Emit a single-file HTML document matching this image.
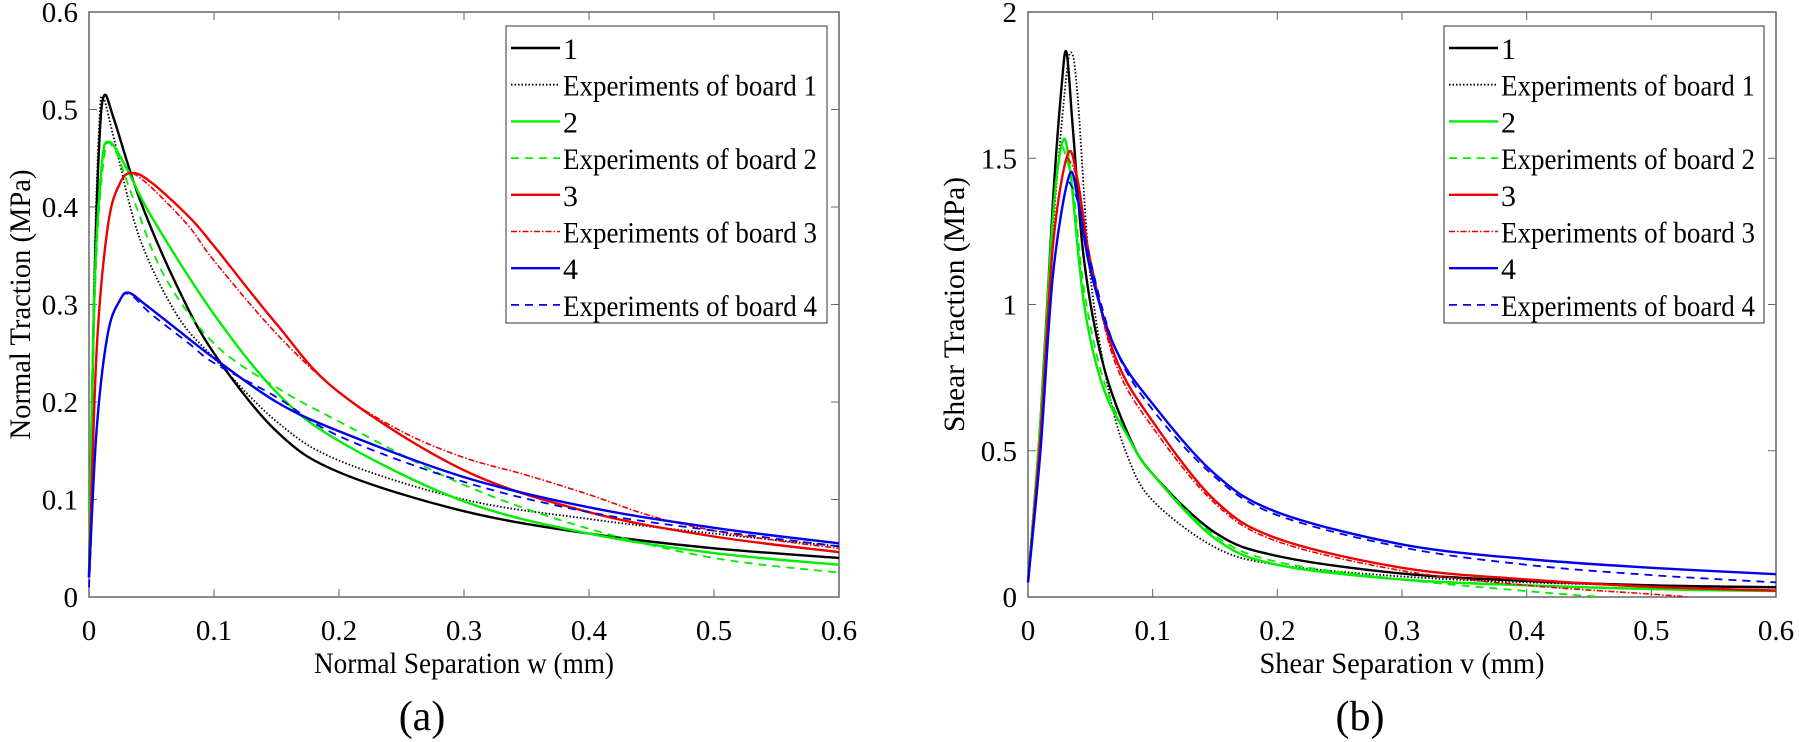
<!DOCTYPE html>
<html><head><meta charset="utf-8">
<style>
body{margin:0;background:#fff;}
svg{display:block;font-family:"Liberation Serif",serif;}
</style></head><body>
<svg id="s" width="1799" height="742" viewBox="0 0 1799 742" xmlns="http://www.w3.org/2000/svg">
</svg>
<script>
const S=document.getElementById('s');let h='';
function cr(pts){
 let d='M'+pts[0][0].toFixed(1)+','+pts[0][1].toFixed(1);
 for(let i=0;i<pts.length-1;i++){const p0=pts[Math.max(0,i-1)],p1=pts[i],p2=pts[i+1],p3=pts[Math.min(pts.length-1,i+2)];
  const c1=[p1[0]+(p2[0]-p0[0])/6,p1[1]+(p2[1]-p0[1])/6],c2=[p2[0]-(p3[0]-p1[0])/6,p2[1]-(p3[1]-p1[1])/6];
  d+=`C${c1[0].toFixed(1)},${c1[1].toFixed(1)} ${c2[0].toFixed(1)},${c2[1].toFixed(1)} ${p2[0].toFixed(1)},${p2[1].toFixed(1)}`;}
 return d;}
function txt(x,y,s,size,anchor,len){return `<text x="${x}" y="${y}" font-size="${size}" text-anchor="${anchor}"${len?` textLength="${len}" lengthAdjust="spacingAndGlyphs"`:''}>${s}</text>`;}
function panel(o){
 const {x0,x1,y0,y1,xmax,ymax,yt,ylab,ylx,xlab,xlw,ylw,cap,series,leg}=o;
 const X=v=>x0+(x1-x0)*v/xmax, Y=v=>y1-(y1-y0)*v/ymax;
 h+=`<rect x="${x0}" y="${y0}" width="${x1-x0}" height="${y1-y0}" fill="none" stroke="#666" stroke-width="1.5"/>`;
 for(let i=0;i<=6;i++){const xv=X(i*0.1);h+=`<line x1="${xv}" y1="${y1}" x2="${xv}" y2="${y1-8}" stroke="#666"/><line x1="${xv}" y1="${y0}" x2="${xv}" y2="${y0+8}" stroke="#666"/>`;
 h+=txt(xv,y1+43,i==0?'0':(i/10).toFixed(1),29,'middle');}
 yt.forEach(v=>{const yv=Y(v);h+=`<line x1="${x0}" y1="${yv}" x2="${x0+8}" y2="${yv}" stroke="#666"/><line x1="${x1}" y1="${yv}" x2="${x1-8}" y2="${yv}" stroke="#666"/>`;
 h+=txt(x0-11,yv+10,v,29,'end');});
 h+=txt((x0+x1)/2,y1+76,xlab,30,'middle',xlw);
 h+=`<text transform="translate(${ylx},${(y0+y1)/2}) rotate(-90)" font-size="30" text-anchor="middle" textLength="${ylw}" lengthAdjust="spacingAndGlyphs">${ylab}</text>`;
 h+=txt((x0+x1)/2-42,730,cap,42,'middle');
 series.forEach(s=>{const pts=s.p.map(q=>[X(q[0]),Y(q[1])]);
  h+=`<path d="${cr(pts)}" fill="none" stroke="${s.c}" stroke-width="${s.w}" ${s.da?`stroke-dasharray="${s.da}"`:''}/>`;});
 const lx=leg, ly=26;
 h+=`<rect x="${lx}" y="${ly}" width="${x1-12-lx}" height="297" fill="#fff" stroke="#555" stroke-width="1.2"/>`;
 series.forEach((s,i)=>{const yy=ly+22+i*36.7;
  h+=`<line x1="${lx+5}" y1="${yy}" x2="${lx+54}" y2="${yy}" stroke="${s.c}" stroke-width="${s.w}" ${s.da?`stroke-dasharray="${s.da}"`:''}/>`;
  h+=`<text x="${lx+57}" y="${yy+11}" font-size="30"${s.n.length>3?' textLength="254" lengthAdjust="spacingAndGlyphs"':''}>${s.n}</text>`;});
}
const K='#000',G='#00ee00',R='#ee0000',B='#0000ee';
const Lser=[
 {n:'1',c:K,w:2.4,p:[[0,0.02],[0.004,0.3],[0.008,0.46],[0.012,0.514],[0.02,0.49],[0.04,0.41],[0.07,0.32],[0.1,0.25],[0.15,0.17],[0.2,0.128],[0.3,0.088],[0.4,0.065],[0.5,0.05],[0.6,0.04]]},
 {n:'Experiments of board 1',c:K,w:1.8,da:'1.5 2',p:[[0,0.02],[0.004,0.32],[0.008,0.48],[0.011,0.513],[0.02,0.47],[0.04,0.37],[0.07,0.29],[0.1,0.245],[0.15,0.18],[0.2,0.14],[0.3,0.1],[0.4,0.08],[0.5,0.065],[0.6,0.052]]},
 {n:'2',c:G,w:2.4,p:[[0,0.02],[0.004,0.3],[0.01,0.44],[0.016,0.467],[0.03,0.44],[0.05,0.39],[0.1,0.29],[0.15,0.21],[0.2,0.16],[0.3,0.098],[0.4,0.065],[0.5,0.045],[0.6,0.033]]},
 {n:'Experiments of board 2',c:G,w:1.8,da:'8 6',p:[[0,0.02],[0.005,0.32],[0.012,0.45],[0.02,0.46],[0.035,0.41],[0.06,0.33],[0.1,0.26],[0.15,0.215],[0.2,0.18],[0.3,0.115],[0.4,0.07],[0.5,0.04],[0.6,0.025]]},
 {n:'3',c:R,w:2.4,p:[[0,0.02],[0.006,0.25],[0.015,0.38],[0.025,0.425],[0.035,0.435],[0.05,0.425],[0.08,0.39],[0.1,0.36],[0.15,0.28],[0.2,0.21],[0.3,0.13],[0.4,0.087],[0.5,0.062],[0.6,0.046]]},
 {n:'Experiments of board 3',c:R,w:1.6,da:'6 2 1.5 2',p:[[0.035,0.435],[0.05,0.42],[0.08,0.38],[0.1,0.345],[0.15,0.27],[0.2,0.21],[0.25,0.17],[0.3,0.143],[0.35,0.125],[0.4,0.105],[0.45,0.083],[0.5,0.068],[0.55,0.058],[0.6,0.05]]},
 {n:'4',c:B,w:2.4,p:[[0,0.02],[0.006,0.17],[0.015,0.27],[0.025,0.305],[0.032,0.312],[0.045,0.3],[0.07,0.275],[0.1,0.245],[0.15,0.2],[0.2,0.17],[0.3,0.123],[0.4,0.092],[0.5,0.071],[0.6,0.055]]},
 {n:'Experiments of board 4',c:B,w:1.8,da:'8 6',p:[[0,0.01],[0.006,0.17],[0.015,0.27],[0.025,0.305],[0.033,0.31],[0.05,0.29],[0.08,0.26],[0.1,0.24],[0.15,0.205],[0.2,0.165],[0.3,0.118],[0.4,0.087],[0.5,0.068],[0.6,0.052]]}
];
const Rser=[
 {n:'1',c:K,w:2.4,p:[[0,0.05],[0.01,0.6],[0.02,1.35],[0.027,1.75],[0.031,1.86],[0.036,1.6],[0.045,1.15],[0.06,0.8],[0.08,0.56],[0.1,0.42],[0.15,0.22],[0.2,0.14],[0.3,0.08],[0.4,0.055],[0.5,0.04],[0.6,0.033]]},
 {n:'Experiments of board 1',c:K,w:1.8,da:'1.5 2',p:[[0,0.05],[0.01,0.55],[0.02,1.25],[0.03,1.75],[0.035,1.86],[0.04,1.7],[0.05,1.1],[0.065,0.7],[0.08,0.48],[0.1,0.33],[0.15,0.17],[0.2,0.11],[0.3,0.07],[0.4,0.05],[0.5,0.04],[0.6,0.035]]},
 {n:'2',c:G,w:2.4,p:[[0,0.05],[0.01,0.6],[0.02,1.3],[0.028,1.56],[0.034,1.45],[0.045,1.0],[0.06,0.72],[0.08,0.55],[0.1,0.42],[0.15,0.2],[0.2,0.11],[0.3,0.06],[0.4,0.04],[0.5,0.027],[0.6,0.02]]},
 {n:'Experiments of board 2',c:G,w:1.8,da:'8 6',p:[[0.028,1.54],[0.036,1.4],[0.045,1.05],[0.06,0.75],[0.08,0.55],[0.1,0.42],[0.15,0.21],[0.2,0.12],[0.3,0.06],[0.4,0.02],[0.46,0]]},
 {n:'3',c:R,w:2.4,p:[[0,0.05],[0.01,0.55],[0.02,1.2],[0.032,1.515],[0.04,1.42],[0.05,1.15],[0.07,0.82],[0.1,0.6],[0.15,0.33],[0.2,0.2],[0.3,0.1],[0.4,0.06],[0.5,0.035],[0.6,0.022]]},
 {n:'Experiments of board 3',c:R,w:1.6,da:'6 2 1.5 2',p:[[0.032,1.5],[0.04,1.42],[0.05,1.15],[0.07,0.8],[0.1,0.58],[0.15,0.32],[0.2,0.19],[0.3,0.09],[0.4,0.04],[0.5,0.01],[0.53,0]]},
 {n:'4',c:B,w:2.4,p:[[0,0.05],[0.01,0.5],[0.02,1.1],[0.033,1.44],[0.04,1.36],[0.05,1.12],[0.07,0.85],[0.1,0.66],[0.15,0.42],[0.2,0.29],[0.3,0.18],[0.4,0.13],[0.5,0.1],[0.6,0.078]]},
 {n:'Experiments of board 4',c:B,w:1.8,da:'8 6',p:[[0.033,1.42],[0.04,1.35],[0.05,1.15],[0.07,0.85],[0.1,0.64],[0.15,0.41],[0.2,0.28],[0.3,0.17],[0.4,0.11],[0.5,0.075],[0.6,0.05]]}
];
panel({x0:89,x1:839,y0:12,y1:597,xmax:0.6,ymax:0.6,yt:[0,0.1,0.2,0.3,0.4,0.5,0.6],ylab:'Normal Traction (MPa)',ylx:30,ylw:270,xlab:'Normal Separation w (mm)',xlw:300,cap:'(a)',series:Lser,leg:506});
panel({x0:1028,x1:1776,y0:12,y1:597,xmax:0.6,ymax:2,yt:[0,0.5,1,1.5,2],ylab:'Shear Traction (MPa)',ylx:964,ylw:255,xlab:'Shear Separation v (mm)',xlw:285,cap:'(b)',series:Rser,leg:1444});
S.innerHTML=h;
</script>
</body></html>
